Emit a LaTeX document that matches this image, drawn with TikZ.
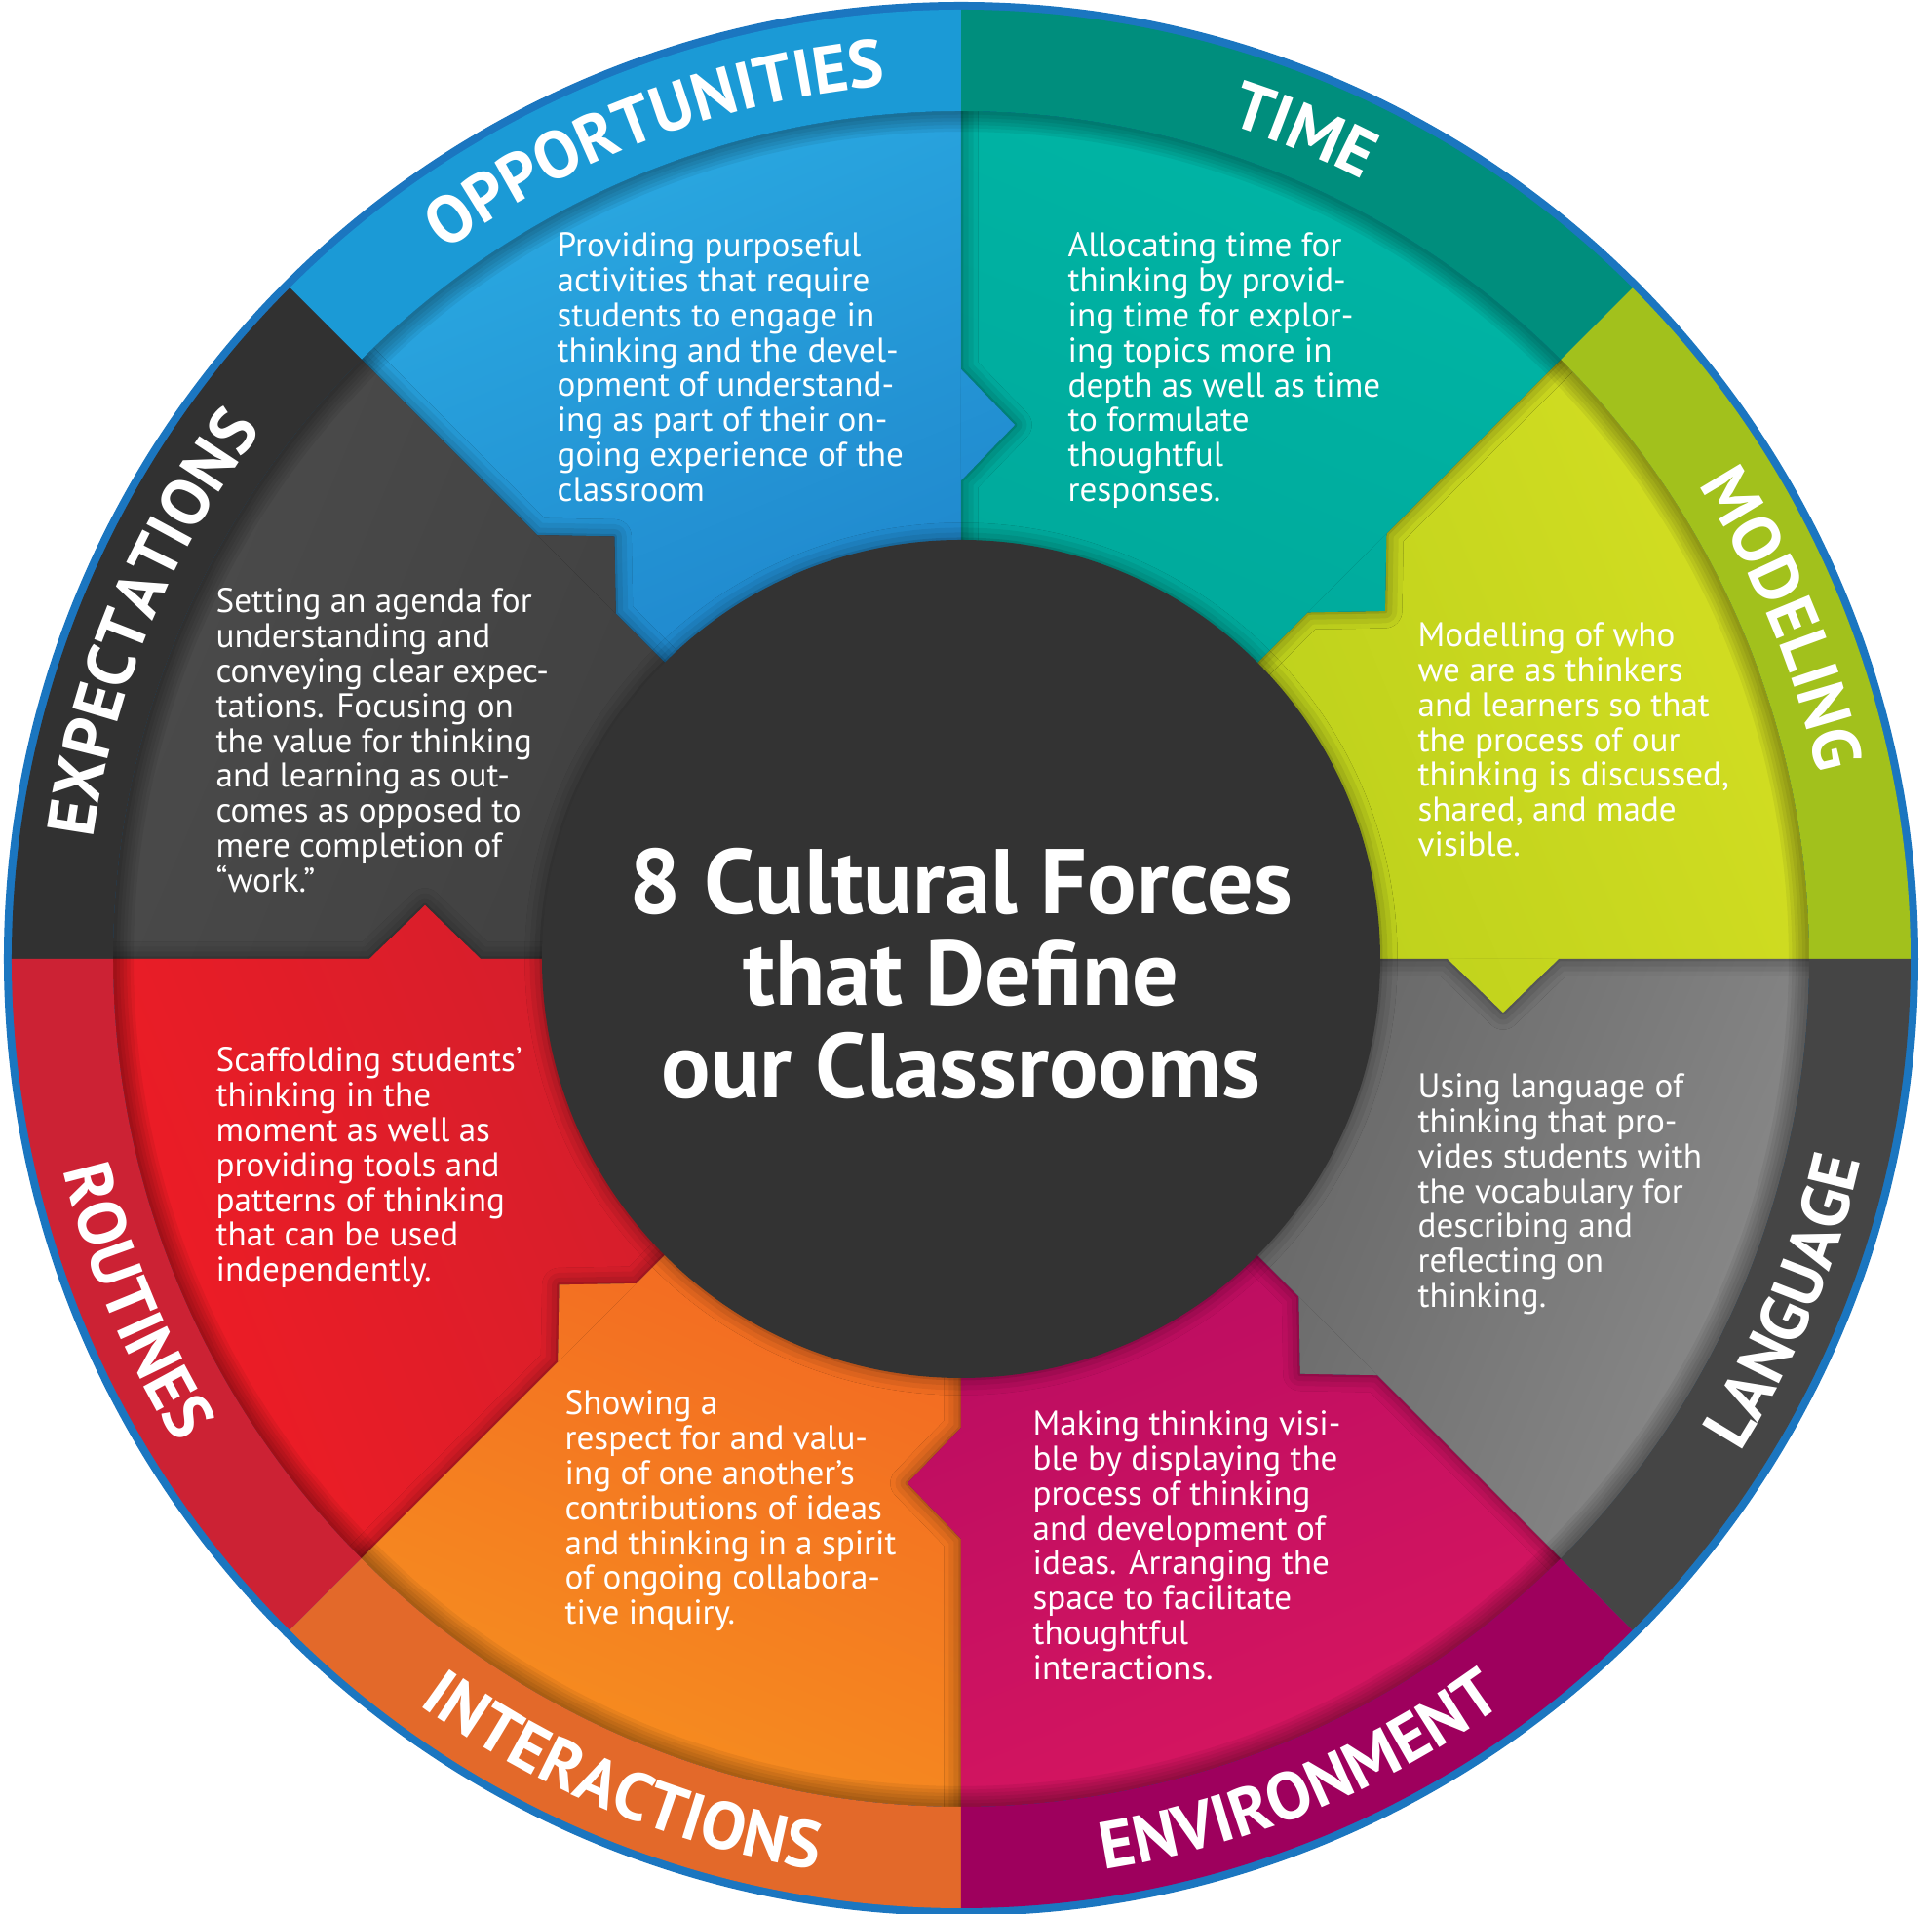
\documentclass[tikz,border=0pt]{standalone}
\usepackage{fontspec}
\setmainfont{PT Sans}
\usetikzlibrary{calc, decorations.text, shadows.blur}

\definecolor{rim}{HTML}{1B76C0}
\definecolor{hub}{HTML}{333333}
% outer band, one colour per force
\definecolor{modring}{HTML}{A2C11C}
\definecolor{timering}{HTML}{008E7D}
\definecolor{oppring}{HTML}{1B9AD6}
\definecolor{expring}{HTML}{313131}
\definecolor{routring}{HTML}{CC2234}
\definecolor{interring}{HTML}{E3692A}
\definecolor{envring}{HTML}{9E005D}
\definecolor{langring}{HTML}{454545}
% wedges: shade at the band and shade at the hub
\definecolor{modout}{HTML}{D3DE22}
\definecolor{modin}{HTML}{B4CB19}
\definecolor{timeout}{HTML}{00B5A5}
\definecolor{timein}{HTML}{00A497}
\definecolor{oppout}{HTML}{2AA9E1}
\definecolor{oppin}{HTML}{1B78C4}
\definecolor{expout}{HTML}{4B4B4B}
\definecolor{expin}{HTML}{3C3C3C}
\definecolor{routout}{HTML}{EE1C25}
\definecolor{routin}{HTML}{C8202F}
\definecolor{interout}{HTML}{F68E1F}
\definecolor{interin}{HTML}{F15A24}
\definecolor{envout}{HTML}{D71660}
\definecolor{envin}{HTML}{AE0862}
\definecolor{langout}{HTML}{8A8A8A}
\definecolor{langin}{HTML}{585858}

\newcommand{\ringfont}{\bfseries\fontsize{19.5}{19.5}\selectfont}
% wedge with its own tab (clockwise side) and the neighbour's notch
\newcommand{\forcepiece}[3]{(0,0) -- (#1:#2-0.57) -- ($(#1:#2)+(#1-90:0.55)$) -- (#1:#2+0.57) -- (#1:8.7) arc[start angle=#1, end angle=#1+45, radius=8.7] -- (#1+45:#3+0.57) -- ($(#1+45:#3)+(#1-45:0.55)$) -- (#1+45:#3-0.57) -- cycle}

\tikzset{
    halo/.style={
        blur shadow={shadow xshift=0pt, shadow yshift=0pt,
            shadow blur radius=5pt, shadow opacity=50}
    },
    blurb/.style={
        anchor=north west,
        align=left,
        inner sep=0pt,
        text=white,
        font=\fontsize{10}{10.2}\selectfont
    },
    hubtitle/.style={
        align=center,
        text=white,
        font=\bfseries\fontsize{26.8}{27}\selectfont
    }
}

\begin{document}
\begin{tikzpicture}
\useasboundingbox (-9.86,-9.80) rectangle (9.96,9.84);
\fill[white] (-9.86,-9.80) rectangle (9.96,9.84);

% rim
\fill[rim] (0,0) circle (9.82);

% wedges
\foreach \a/\da/\db/\fc in {0/5.56/5.60/mod, 45/5.60/5.48/time, 90/5.48/5.58/opp, 135/5.58/5.50/exp,
    180/5.50/5.28/rout, 225/5.28/5.38/inter, 270/5.38/5.47/env, 315/5.47/5.56/lang} {
    \pgfmathsetmacro{\shang}{\a-67.5}
    \path[top color=\fc out, bottom color=\fc in, shading angle=\shang] \forcepiece{\a}{\da}{\db};
}

% tabs cast a shadow on the clockwise neighbour
\foreach \a/\da/\db/\fc in {0/5.56/5.60/mod, 45/5.60/5.48/time, 90/5.48/5.58/opp, 135/5.58/5.50/exp,
    180/5.50/5.28/rout, 225/5.28/5.38/inter, 270/5.38/5.47/env, 315/5.47/5.56/lang} {
    \begin{scope}
        \clip (0,0) -- (\a-45:8.7) arc[start angle=\a-45, end angle=\a, radius=8.7] -- cycle;
        \pgfmathsetmacro{\shang}{\a-67.5}
        \path[halo, top color=\fc out, bottom color=\fc in, shading angle=\shang] \forcepiece{\a}{\da}{\db};
    \end{scope}
}

% band shadow on the wedges
\foreach \w in {2,4,...,12} {
    \draw[black, opacity=0.06, line width=\w pt] (0,0) circle (8.7);
}

% outer band
\foreach \a/\fc in {0/mod, 45/time, 90/opp, 135/exp, 180/rout, 225/inter, 270/env, 315/lang} {
    \fill[\fc ring] (\a:8.7) -- (\a:9.74) arc[start angle=\a, end angle=\a+45, radius=9.74]
        -- (\a+45:8.7) arc[start angle=\a+45, end angle=\a, radius=8.7] -- cycle;
}

% band labels
\foreach \sa/\ea/\rr/\lbl in {45/0/8.99/MODELING, 90/45/8.99/TIME, 133/88/8.99/OPPORTUNITIES,
    180/135/8.99/EXPECTATIONS, 180/225/9.46/ROUTINES, 225/270/9.46/INTERACTIONS,
    270/315/9.46/ENVIRONMENT, 315/360/9.46/LANGUAGE} {
    \ringfont
    \path[decorate, decoration={text along path, text/.expand once=\lbl,
        text align=center, text color=white}] (\sa:\rr) arc[start angle=\sa, end angle=\ea, radius=\rr];
}

% hub
\node[circle, fill=hub, minimum size=8.6cm, inner sep=0pt, halo] (hub) at (0,0) {};
\node[hubtitle] (title) at (0,-0.15) {8 Cultural Forces\\that Define\\our Classrooms};

% texts
\node[blurb] (opptext) at (-4.15,7.46) {Providing purposeful\\activities that require\\students to engage in\\thinking and the devel-\\opment of understand-\\ing as part of their on-\\going experience of the\\classroom};
\node[blurb] (timetext) at (1.09,7.46) {Allocating time for\\thinking by provid-\\ing time for explor-\\ing topics more in\\depth as well as time\\to formulate\\thoughtful\\responses.};
\node[blurb] (modtext) at (4.68,3.46) {Modelling of who\\we are as thinkers\\and learners so that\\the process of our\\thinking is discussed,\\shared, and made\\visible.};
\node[blurb] (langtext) at (4.68,-1.17) {Using language of\\thinking that pro-\\vides students with\\the vocabulary for\\describing and\\reflecting on\\thinking.};
\node[blurb] (envtext) at (0.73,-4.63) {Making thinking visi-\\ble by displaying the\\process of thinking\\and development of\\ideas. Arranging the\\space to facilitate\\thoughtful\\interactions.};
\node[blurb] (intertext) at (-4.07,-4.42) {Showing a\\respect for and valu-\\ing of one another’s\\contributions of ideas\\and thinking in a spirit\\of ongoing collabora-\\tive inquiry.};
\node[blurb] (routtext) at (-7.65,-0.90) {Scaffolding students’\\thinking in the\\moment as well as\\providing tools and\\patterns of  thinking\\that can be used\\independently.};
\node[blurb] (exptext) at (-7.65,3.81) {Setting an agenda for\\understanding and\\conveying clear expec-\\tations. Focusing on\\the value for thinking\\and learning as out-\\comes as opposed to\\mere completion of\\“work.”};
\end{tikzpicture}
\end{document}
